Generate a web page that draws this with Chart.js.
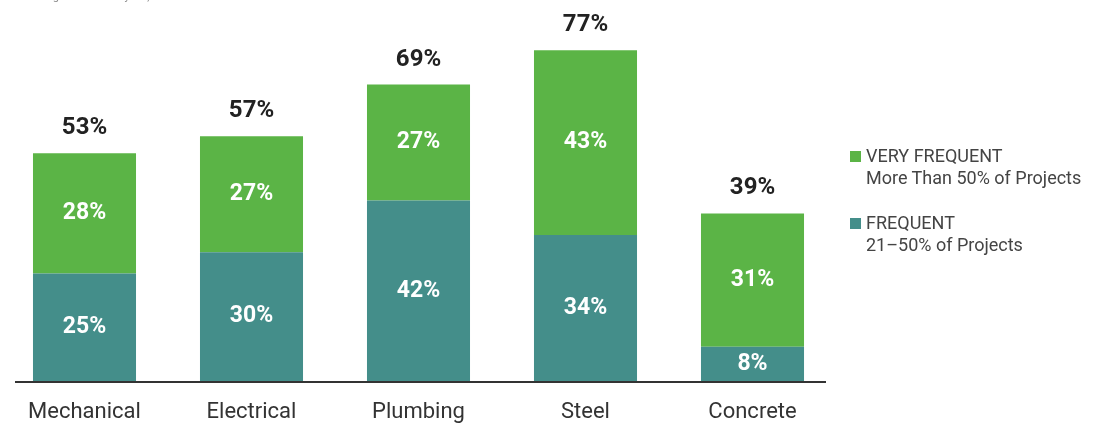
<!doctype html>
<html>
<head>
<title>Prefabrication Use by Trade</title>
<style>
body { margin: 0; background: #fff; }
.container { position: relative; width: 1103px; height: 424px; overflow: hidden; }
#myChart { position: absolute; left: 0; top: 0; }
.source { position: absolute; left: 33px; top: -10px; font: 11px Roboto, sans-serif; color: #888; }
.legend { position: absolute; left: 850px; top: 145px; font: 18px Roboto, sans-serif; color: #444; line-height: 22px; }
.legend .item { position: relative; padding-left: 16px; margin-bottom: 23px; }
.legend .box { position: absolute; left: 0; top: 6px; width: 11px; height: 11px; }
</style>
</head>
<body>
<div class="container">
<canvas id="myChart" width="1103" height="424"></canvas>
<div class="source">Dodge Data &amp; Analytics, 2022</div>
<div class="legend">
  <div class="item"><span class="box" style="background:#5bb446"></span>VERY FREQUENT<br>More Than 50% of Projects</div>
  <div class="item"><span class="box" style="background:#448e8a"></span>FREQUENT<br>21–50% of Projects</div>
</div>
</div>

<script src="https://cdn.jsdelivr.net/npm/chart.js@4/dist/chart.umd.min.js"></script>
<script>

var categories = ['Mechanical', 'Electrical', 'Plumbing', 'Steel', 'Concrete'];
var frequent = [25, 30, 42, 34, 8];
var veryFrequent = [28, 27, 27, 43, 31];
var totals = [53, 57, 69, 77, 39];

var green = '#5bb446';
var teal = '#448e8a';

// values inside segments + totals above bars
var labelPlugin = {
  id: 'labels',
  afterDatasetsDraw: function(chart) {
    var ctx = chart.ctx;
    ctx.save();
    ctx.textAlign = 'center';
    ctx.textBaseline = 'middle';
    chart.data.datasets.forEach(function(ds, i) {
      chart.getDatasetMeta(i).data.forEach(function(bar, j) {
        ctx.fillStyle = '#fff';
        ctx.font = 'bold 23px Roboto, sans-serif';
        ctx.fillText(ds.data[j] + '%', bar.x, (bar.y + bar.base) / 2);
      });
    });
    var top = chart.getDatasetMeta(1).data;
    top.forEach(function(bar, j) {
      ctx.fillStyle = '#222';
      ctx.font = 'bold 24px Roboto, sans-serif';
      ctx.fillText(totals[j] + '%', bar.x, bar.y - 25);
    });
    // baseline
    var y = chart.scales.y.getPixelForValue(0);
    ctx.strokeStyle = '#333';
    ctx.lineWidth = 2;
    ctx.beginPath();
    ctx.moveTo(15, y + 1);
    ctx.lineTo(826, y + 1);
    ctx.stroke();
    ctx.restore();
  }
};

var ctx = document.getElementById('myChart').getContext('2d');
var myChart = new Chart(ctx, {
  type: 'bar',
  data: {
    labels: categories,
    datasets: [{
      label: 'FREQUENT',
      data: frequent,
      backgroundColor: teal
    }, {
      label: 'VERY FREQUENT',
      data: veryFrequent,
      backgroundColor: green
    }]
  },
  options: {
    responsive: false,
    animation: false,
    layout: { padding: { left: 1, right: 267, top: 3, bottom: 0 } },
    datasets: { bar: { barPercentage: 1, categoryPercentage: 0.617 } },
    plugins: { legend: { display: false }, tooltip: { enabled: false } },
    scales: {
      x: {
        stacked: true,
        grid: { display: false, drawTicks: false },
        border: { display: false },
        ticks: { color: '#333', font: { size: 22, family: 'Roboto' }, padding: 18 },
        afterFit: function(scale) { scale.height = 43; }
      },
      y: {
        stacked: true,
        display: false,
        min: 0,
        max: 88
      }
    }
  },
  plugins: [labelPlugin]
});

</script>
</body>
</html>
